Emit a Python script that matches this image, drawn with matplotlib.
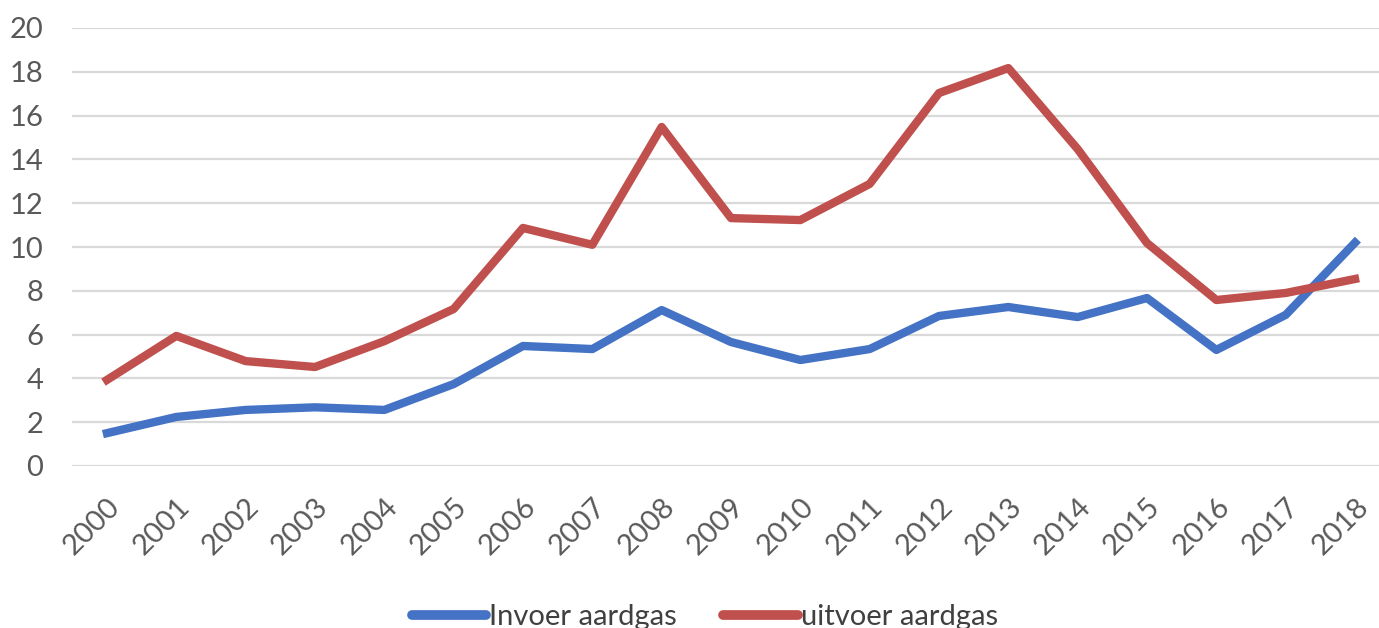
import matplotlib.pyplot as plt

# jaren en waarden
jaren = ['2000', '2001', '2002', '2003', '2004', '2005', '2006', '2007', '2008', '2009',
         '2010', '2011', '2012', '2013', '2014', '2015', '2016', '2017', '2018']
invoer = [1.5, 2.24, 2.56, 2.68, 2.56, 3.74, 5.48, 5.34, 7.12, 5.66,
          4.84, 5.34, 6.85, 7.26, 6.8, 7.67, 5.3, 6.9, 10.2]
uitvoer = [3.93, 5.94, 4.79, 4.52, 5.7, 7.17, 10.87, 10.1, 15.48, 11.32,
           11.23, 12.88, 17.03, 18.17, 14.47, 10.18, 7.58, 7.9, 8.54]

plt.rcParams['font.family'] = ['Lato', 'DejaVu Sans']

fig = plt.figure(figsize=(13.79, 6.28), dpi=100)
ax = fig.add_axes([72.3 / 1379, 162 / 628, 1317.4 / 1379, 438 / 628])

x = range(len(jaren))
ax.plot(x, invoer, color='#4472c4', lw=6, solid_joinstyle='round', label='Invoer aardgas', zorder=3)
ax.plot(x, uitvoer, color='#c0504d', lw=6, solid_joinstyle='round', label='uitvoer aardgas', zorder=3)

ax.set_xlim(-0.5, len(jaren) - 0.5)
ax.set_ylim(0, 20)
ax.set_yticks(range(0, 21, 2))
ax.set_xticks(list(x))
ax.set_xticklabels(jaren, rotation=45, ha='right', rotation_mode='anchor')
ax.tick_params(axis='both', length=0, labelsize=21, colors='#595959')
ax.tick_params(axis='y', pad=21)
ax.tick_params(axis='x', pad=20)
ax.grid(axis='y', color='#d9d9d9', lw=1.6)
ax.set_axisbelow(True)
for s in ax.spines.values():
    s.set_visible(False)

leg = fig.legend(loc='lower center', bbox_to_anchor=(0.511, -0.045), ncol=2, frameon=False,
                 fontsize=21, handlelength=2.55, handletextpad=0.1, columnspacing=1.6,
                 labelcolor='#404040')
for h in leg.legend_handles:
    h.set_linewidth(7)
    h.set_solid_capstyle('round')

fig.savefig('out.png', dpi=100)
